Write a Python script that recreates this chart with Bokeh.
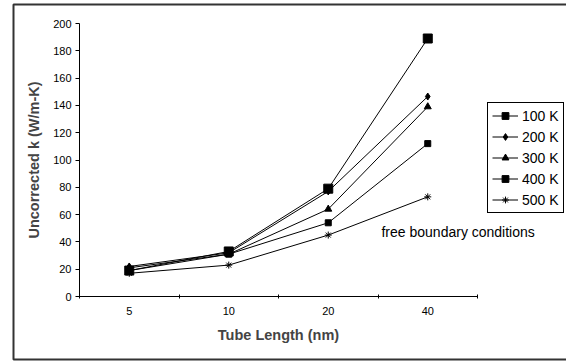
from bokeh.plotting import figure
from bokeh.models import (Range1d, FixedTicker, Legend, LegendItem, Label,
                          BoxAnnotation, LinearAxis)
from bokeh.embed import file_html
from bokeh.resources import INLINE

# Tube lengths (nm) shown as evenly spaced categories
lengths = ["5", "10", "20", "40"]

# Uncorrected thermal conductivity k (W/m-K) per temperature
k_100 = [19, 33, 79, 189]
k_200 = [22, 32, 77, 146.5]
k_300 = [21, 31, 64, 139]
k_400 = [19, 31, 54, 112]
k_500 = [17, 23, 45, 73]

temps = ["100 K", "200 K", "300 K", "400 K", "500 K"]
series = [k_100, k_200, k_300, k_400, k_500]
markers = ["square", "diamond", "triangle", "square", "asterisk"]
sizes = [9, 7, 7, 6, 7]

FONT = "Liberation Sans"
W, H = 566, 362

# category centres sit halfway between the boundary ticks
xs = [i + 0.5 for i in range(len(lengths))]

# plotting area geometry (pixels): axes cross at (79, 296), 4 categories
# across 398 px, 0..200 across 273 px; the frame spans the whole canvas so
# the legend, note and chart border are never clipped.
x0_px, y0_px = 79, 296
px_per_cat = 398 / len(lengths)
px_per_k = 273 / 200

p = figure(width=W, height=H, output_backend="svg", toolbar_location=None,
           x_range=Range1d(-x0_px / px_per_cat, (W - x0_px) / px_per_cat),
           y_range=Range1d(-(H - y0_px) / px_per_k, y0_px / px_per_k),
           min_border=0, x_axis_type=None, y_axis_type=None)
p.background_fill_color = "white"
p.border_fill_color = "white"
p.outline_line_color = None
p.grid.visible = False

# y axis
ya = LinearAxis(fixed_location=0, bounds=(0, 200),
                ticker=FixedTicker(ticks=list(range(0, 201, 20))),
                minor_tick_line_color=None, major_tick_in=0, major_tick_out=4,
                axis_line_color="black", major_tick_line_color="black",
                major_label_text_font=FONT, major_label_text_font_size="11px",
                major_label_text_color="black", major_label_standoff=4,
                axis_label="Uncorrected k (W/m-K)", axis_label_text_font=FONT,
                axis_label_text_font_style="bold",
                axis_label_text_font_size="14.5px", axis_label_standoff=8)
p.add_layout(ya, "left")

# x axis: tick marks at category boundaries
xb = LinearAxis(fixed_location=0, bounds=(0, len(lengths)),
                ticker=FixedTicker(ticks=list(range(len(lengths) + 1))),
                major_label_overrides={i: "" for i in range(len(lengths) + 1)},
                major_tick_in=2, major_tick_out=2, minor_tick_line_color=None,
                axis_line_color="black", major_tick_line_color="black",
                major_label_standoff=0)
# x axis: category labels at the centres
xl = LinearAxis(fixed_location=0, bounds=(0, len(lengths)),
                ticker=FixedTicker(ticks=xs),
                major_label_overrides={x: l for x, l in zip(xs, lengths)},
                major_tick_in=0, major_tick_out=0, minor_tick_line_color=None,
                axis_line_color=None, major_label_standoff=10,
                major_label_text_font=FONT, major_label_text_font_size="11px",
                major_label_text_color="black",
                axis_label="Tube Length (nm)", axis_label_text_font=FONT,
                axis_label_text_font_style="bold",
                axis_label_text_font_size="14.5px", axis_label_standoff=9)
p.add_layout(xb, "below")
p.add_layout(xl, "below")

items = []
for t, ys, m, s in zip(temps, series, markers, sizes):
    r_line = p.line(xs, ys, line_color="black", line_width=1)
    r_mark = p.scatter(xs, ys, marker=m, size=s, fill_color="black",
                       line_color="black", line_width=1)
    items.append(LegendItem(label=t, renderers=[r_line, r_mark]))

legend = Legend(items=items, location=(487, H - 213), orientation="vertical",
                label_text_font=FONT, label_text_font_size="14px",
                label_text_color="black", border_line_color="black",
                border_line_width=1, border_line_alpha=1,
                background_fill_color="white",
                glyph_width=26, glyph_height=17, label_height=17, spacing=4,
                padding=4, margin=0, label_standoff=4)
p.add_layout(legend, "center")

p.add_layout(Label(x=3.035, y=47, text="free boundary conditions",
                   text_font=FONT, text_font_size="14px",
                   text_color="black", text_baseline="middle"))

# outer chart border
p.add_layout(BoxAnnotation(left=13, right=W + 20, bottom=H - 359, top=H - 4,
                           left_units="screen", right_units="screen",
                           bottom_units="screen", top_units="screen",
                           fill_color=None, fill_alpha=0,
                           line_color="#333333", line_alpha=1,
                           line_width=2))

open("out.html", "w").write(file_html(p, INLINE))
